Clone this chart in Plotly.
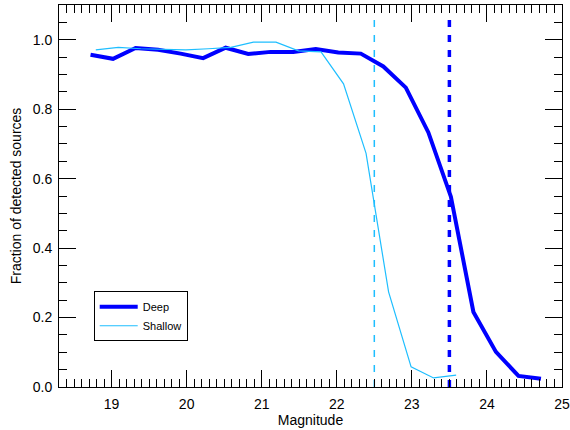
import plotly.graph_objects as go

deep_mag = [18.72, 19.02, 19.32, 19.62, 19.92, 20.22, 20.52, 20.82, 21.12, 21.42,
            21.72, 22.02, 22.32, 22.62, 22.92, 23.22, 23.52, 23.82, 24.12, 24.42, 24.72]
deep_frac = [0.957, 0.945, 0.976, 0.971, 0.960, 0.947, 0.977, 0.959, 0.965, 0.965,
             0.973, 0.963, 0.960, 0.923, 0.862, 0.733, 0.548, 0.216, 0.101, 0.032, 0.024]

shallow_mag = [18.79, 19.09, 19.39, 19.69, 19.99, 20.29, 20.59, 20.89, 21.19, 21.49,
               21.79, 22.09, 22.39, 22.69, 22.99, 23.29, 23.59]
shallow_frac = [0.971, 0.978, 0.974, 0.973, 0.971, 0.974, 0.978, 0.993, 0.993, 0.968,
                0.965, 0.873, 0.673, 0.274, 0.058, 0.026, 0.034]

deep_limit = 23.5
shallow_limit = 22.5
limit_span = [0.0, 1.08]

DEEP = "#0000FF"
SHALLOW = "#1EBEFF"
FONT = "Liberation Sans, Arial, sans-serif"

fig = go.Figure()
fig.add_trace(go.Scatter(x=[shallow_limit, shallow_limit], y=limit_span, mode="lines",
                         line=dict(color=SHALLOW, width=1.5, dash="7px,8px"),
                         showlegend=False, hoverinfo="skip"))
fig.add_trace(go.Scatter(x=[deep_limit, deep_limit], y=limit_span, mode="lines",
                         line=dict(color=DEEP, width=3.5, dash="7px,8px"),
                         showlegend=False, hoverinfo="skip"))
fig.add_trace(go.Scatter(x=deep_mag, y=deep_frac, mode="lines", name="Deep",
                         line=dict(color=DEEP, width=4)))
fig.add_trace(go.Scatter(x=shallow_mag, y=shallow_frac, mode="lines", name="Shallow",
                         line=dict(color=SHALLOW, width=1.2)))

axis_common = dict(
    showgrid=False, zeroline=False, showline=True, linecolor="black", linewidth=1,
    mirror="allticks", ticks="inside", ticklen=17, tickwidth=1, tickcolor="black",
    tickfont=dict(family=FONT, size=14, color="black"), automargin=False,
)

fig.update_xaxes(range=[18.3, 25], dtick=1, tick0=19,
                 minor=dict(dtick=0.1, ticks="inside", ticklen=8, tickcolor="black", tickwidth=1),
                 title=dict(text="Magnitude", font=dict(family=FONT, size=14, color="black"), standoff=2),
                 ticklabelstandoff=4,
                 **axis_common)
fig.update_yaxes(range=[0, 1.1], dtick=0.2, tickformat=".1f",
                 minor=dict(dtick=0.05, ticks="inside", ticklen=8, tickcolor="black", tickwidth=1),
                 title=dict(text="Fraction of detected sources", font=dict(family=FONT, size=14, color="black"), standoff=7),
                 ticklabelstandoff=3,
                 **axis_common)

fig.update_layout(
    width=570, height=430,
    margin=dict(l=59, r=8, t=5, b=43, autoexpand=False),
    plot_bgcolor="white", paper_bgcolor="white",
    legend=dict(x=0.069, y=0.2507, xanchor="left", yanchor="top",
                bordercolor="black", borderwidth=1, bgcolor="white",
                itemwidth=38, entrywidth=76,
                font=dict(family=FONT, size=11, color="black")),
)

fig.write_html("out.html", config={"displayModeBar": False},
               post_script="document.body.style.margin='0';")
